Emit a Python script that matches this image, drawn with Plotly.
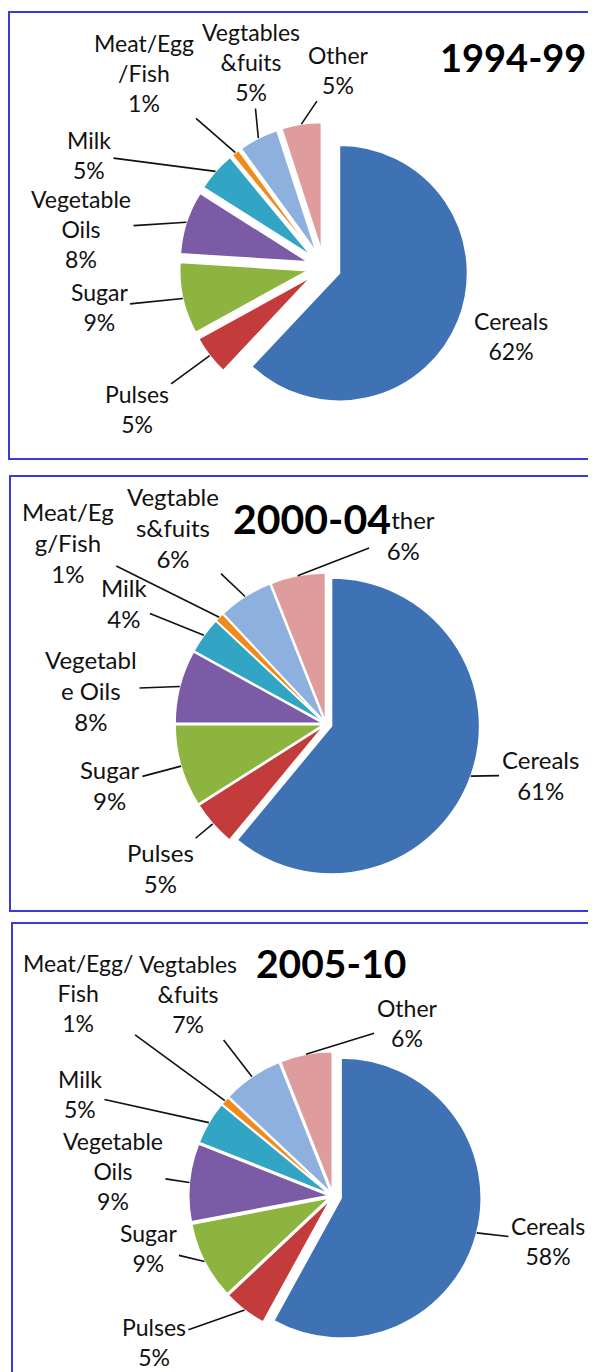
import math
import plotly.graph_objects as go

# ---------------- data ----------------
categories = ["Cereals", "Pulses", "Sugar", "Vegetable Oils", "Milk",
              "Meat/Egg/Fish", "Vegtables &fuits", "Other"]

periods = ["1994-99", "2000-04", "2005-10"]

values_1994_99 = [62, 5, 9, 8, 5, 1, 5, 5]
values_2000_04 = [61, 5, 9, 8, 4, 1, 6, 6]
values_2005_10 = [58, 5, 9, 9, 5, 1, 7, 6]

# label text as wrapped in each panel
labels_1994_99 = ["Cereals", "Pulses", "Sugar", "Vegetable<br>Oils", "Milk",
                  "Meat/Egg<br>/Fish", "Vegtables<br>&fuits", "Other"]
labels_2000_04 = ["Cereals", "Pulses", "Sugar", "Vegetabl<br>e Oils", "Milk",
                  "Meat/Eg<br>g/Fish", "Vegtable<br>s&fuits", "Other"]
labels_2005_10 = ["Cereals", "Pulses", "Sugar", "Vegetable<br>Oils", "Milk",
                  "Meat/Egg/<br>Fish", "Vegtables<br>&fuits", "Other"]

# ---------------- style / layout ----------------
colors = ["#3F72B5", "#C43B3B", "#8DB43E", "#7B5BA6", "#33A5C4",
          "#F28A1A", "#8DB0DF", "#DE9C9C"]

W, H = 596, 1372
OFF = 8  # default page margin around the plot div
FONT = "Lato, Carlito, Calibri, sans-serif"


def PX(x):
    return (x - OFF) / W


def PY(y):
    return 1 - (y - OFF) / H


panels = [
    dict(values=values_1994_99, labels=labels_1994_99, c=(324, 267), r=128,
         pull=[0.13] * 8, title=periods[0], tpos=(513, 57), tsize=38, fsize=23,
         label_px=[(511, 336), (137, 409), (99, 307), (81, 229), (89, 155),
                   (144, 73), (251, 62), (338, 70)],
         arrows=[False, True, True, True, True, True, True, True]),
    dict(values=values_2000_04, labels=labels_2000_04, c=(326, 724), r=148,
         pull=[0.04] + [0.02] * 7, title=periods[1], tpos=(312, 518), tsize=41, fsize=24,
         label_px=[(540, 775), (160, 868), (110, 785), (91, 690), (124, 603),
                   (68, 542), (173, 528), (403, 535)],
         arrows=[True] * 8),
    dict(values=values_2005_10, labels=labels_2005_10, c=(333, 1196), r=140,
         pull=[0.06] + [0.03] * 7, title=periods[2], tpos=(331, 963), tsize=39, fsize=23,
         label_px=[(548, 1241), (154, 1342), (148, 1248), (113, 1171), (80, 1094),
                   (78, 993), (188, 994), (407, 1023)],
         arrows=[True] * 8),
]

boxes = [(9, 12, 620, 459), (10, 476, 620, 911), (12, 923, 620, 1400)]

fig = go.Figure()


def slice_anchor(values, pulls, i, cx, cy, r):
    """outer-edge point on the bisector of slice i (pixels, y down)"""
    total = float(sum(values))
    mid = (sum(values[:i]) + values[i] / 2.0) / total * 2 * math.pi
    rr = r * (1 + pulls[i])
    return cx + rr * math.sin(mid), cy - rr * math.cos(mid)


for p in panels:
    half = p["r"] * (1 + max(p["pull"]))
    cx, cy = p["c"]
    dom_x = [PX(cx - half), PX(cx + half)]
    dom_y = [PY(cy + half), PY(cy - half)]
    fig.add_trace(go.Pie(
        values=p["values"],
        labels=categories,
        textinfo="none",
        sort=False,
        direction="clockwise",
        rotation=0,
        pull=p["pull"],
        marker=dict(colors=colors, line=dict(color="#FFFFFF", width=1.5)),
        domain=dict(x=dom_x, y=dom_y),
        showlegend=False,
        hoverinfo="label+percent",
    ))
    for i, lab in enumerate(p["labels"]):
        axp, ayp = slice_anchor(p["values"], p["pull"], i, cx, cy, p["r"])
        lx, ly = p["label_px"][i]
        txt = lab + "<br>" + str(p["values"][i]) + "%"
        if p["arrows"][i]:
            fig.add_annotation(
                x=PX(axp), y=PY(ayp), xref="paper", yref="paper",
                ax=lx - axp, ay=ly - ayp, text=txt, showarrow=True,
                arrowhead=0, arrowwidth=1.6, arrowcolor="#111111",
                standoff=0, startstandoff=2, borderpad=0, align="center",
                font=dict(family=FONT, size=p["fsize"], color="#111111"),
            )
        else:
            fig.add_annotation(
                x=PX(lx), y=PY(ly), xref="paper", yref="paper",
                text=txt, showarrow=False, xanchor="center", yanchor="middle",
                align="center",
                font=dict(family=FONT, size=p["fsize"], color="#111111"),
            )
    fig.add_annotation(
        x=PX(p["tpos"][0]), y=PY(p["tpos"][1]), xref="paper", yref="paper",
        text="<b>" + p["title"] + "</b>", showarrow=False,
        xanchor="center", yanchor="middle", borderpad=0,
        bgcolor="rgba(255,255,255,0)" if p["title"] != "2000-04" else "#FFFFFF",
        font=dict(family=FONT, size=p["tsize"], color="#000000"),
    )

for (x0, y0, x1, y1) in boxes:
    fig.add_shape(type="rect", xref="paper", yref="paper",
                  x0=PX(x0), x1=PX(x1), y0=PY(y0), y1=PY(y1),
                  line=dict(color="#3B3BDD", width=2), fillcolor="rgba(0,0,0,0)",
                  layer="below")

fig.update_layout(
    width=W, height=H,
    margin=dict(l=0, r=0, t=0, b=0, autoexpand=False),
    paper_bgcolor="#FFFFFF",
    plot_bgcolor="#FFFFFF",
)

fig.write_html("out.html")
